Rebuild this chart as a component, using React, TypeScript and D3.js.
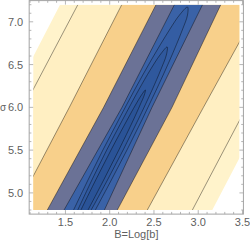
import React from 'react';
import * as d3 from 'd3';

const WIDTH = 250;
const HEIGHT = 247;

// plotted region in data units
const bDomain: [number, number] = [1.137, 3.464];
const sigmaDomain: [number, number] = [4.8, 7.2];

// straight-ish contours, given as the B value where each crosses sigma = 7.2, 6.0, 4.8
const sigmaRows = [7.2, 6.0, 4.8];
const cutLeft = [1.439, 0.841, 0.241]; // edge of the clipped (white) corner
const c1Left = [1.64, 1.029, 0.419];
const c2Left = [2.136, 1.544, 0.935];
const c3Left = [2.523, 1.931, 1.295];
const c4Left = [2.731, 2.139, 1.484];
const c4Right = [3.049, 2.478, 1.94];
const c3Right = [3.255, 2.704, 2.086];
const c2Right = [3.698, 3.059, 2.425];
const c1Right = [4.155, 3.544, 2.934];
const cutRight = [4.373, 3.766, 3.159];

// inner contours along the ridge, [B, sigma], open at the bottom edge
const inner1: [number, number][] = [
  [1.592, 4.8], [1.755, 5.151], [1.923, 5.501], [2.1, 5.852], [2.28, 6.203], [2.47, 6.554],
  [2.674, 6.904], [2.789, 7.08], [2.879, 7.173], [2.879, 7.08], [2.82, 6.904], [2.68, 6.554],
  [2.526, 6.203], [2.364, 5.852], [2.195, 5.501], [2.019, 5.151], [1.838, 4.8]
];
const inner2: [number, number][] = [
  [1.639, 4.8], [1.799, 5.151], [1.966, 5.501], [2.144, 5.852], [2.327, 6.203], [2.458, 6.437],
  [2.568, 6.612], [2.649, 6.706], [2.64, 6.612], [2.576, 6.437], [2.479, 6.203], [2.32, 5.852],
  [2.152, 5.501], [1.975, 5.151], [1.791, 4.8]
];
const inner3: [number, number][] = [
  [1.675, 4.8], [1.842, 5.151], [2.015, 5.501], [2.197, 5.852], [2.291, 6.027], [2.359, 6.144],
  [2.403, 6.203], [2.391, 6.144], [2.343, 6.027], [2.267, 5.852], [2.103, 5.501], [1.932, 5.151],
  [1.755, 4.8]
];

const xMajor = [1.5, 2.0, 2.5, 3.0, 3.5];
const yMajor = [5.0, 5.5, 6.0, 6.5, 7.0];

const bandColors = ['#fff3cb', '#ffefc2', '#f8d08b', '#6b7296', '#3a62a7', '#345da3', '#2f589d', '#2a5397'];
const frameColor = '#a3a3a3';
const labelColor = '#5f5f5f';
const lineColor = 'rgba(0,0,0,0.5)';
const font = '"Liberation Sans", Arial, sans-serif';

export default function App() {
  const x = d3.scaleLinear().domain(bDomain).range([33.3, 239.3]);
  const y = d3.scaleLinear().domain(sigmaDomain).range([210, 4.7]);

  const padB = 0.02 * (bDomain[1] - bDomain[0]);
  const padS = 0.02 * (sigmaDomain[1] - sigmaDomain[0]);
  const fl = x(bDomain[0] - padB);
  const fr = x(bDomain[1] + padB);
  const ft = y(sigmaDomain[1] + padS);
  const fb = y(sigmaDomain[0] - padS);

  const pts = (bs: number[]) => bs.map((b, i) => [x(b), y(sigmaRows[i])] as [number, number]);
  const band = (a: number[], b: number[]) =>
    d3.line()([...pts(a), ...pts(b).reverse()]) + 'Z';
  const edge = (a: number[]) => d3.line()(pts(a))!;
  const ridge = d3.line<[number, number]>()
    .x(d => x(d[0]))
    .y(d => y(d[1]))
    .curve(d3.curveCatmullRom);

  const bands = [
    band(cutLeft, cutRight),
    band(c1Left, c1Right),
    band(c2Left, c2Right),
    band(c3Left, c3Right),
    band(c4Left, c4Right),
    ridge(inner1) + 'Z',
    ridge(inner2) + 'Z',
    ridge(inner3) + 'Z'
  ];
  const lines = [
    ...[c1Left, c2Left, c3Left, c4Left, c4Right, c3Right, c2Right, c1Right].map(edge),
    ridge(inner1)!, ridge(inner2)!, ridge(inner3)!
  ];

  const xMinor = d3.range(11, 36).map(v => v / 10);
  const yMinor = d3.range(48, 73).map(v => v / 10);

  return (
    <svg width={WIDTH} height={HEIGHT} style={{ position: 'absolute', left: 0, top: 0 }}>
      <defs>
        <clipPath id="plot-clip">
          <rect x={x(bDomain[0])} y={y(sigmaDomain[1])}
            width={x(bDomain[1]) - x(bDomain[0])} height={y(sigmaDomain[0]) - y(sigmaDomain[1])} />
        </clipPath>
      </defs>
      <g clipPath="url(#plot-clip)">
        {bands.map((d, i) => <path key={i} d={d} fill={bandColors[i]} />)}
        {lines.map((d, i) => <path key={i} d={d} fill="none" stroke={lineColor} strokeWidth={0.8} />)}
      </g>

      {/* frame and ticks */}
      <rect x={fl} y={ft} width={fr - fl} height={fb - ft} fill="none" stroke={frameColor} strokeWidth={1} />
      <g stroke={frameColor} strokeWidth={0.8}>
        {xMinor.map(v => {
          const len = xMajor.some(m => Math.abs(m - v) < 1e-6) ? 4 : 2.2;
          return (
            <g key={'x' + v}>
              <line x1={x(v)} x2={x(v)} y1={fb} y2={fb - len} />
              <line x1={x(v)} x2={x(v)} y1={ft} y2={ft + len} />
            </g>
          );
        })}
        {yMinor.map(v => {
          const len = yMajor.some(m => Math.abs(m - v) < 1e-6) ? 4 : 2.2;
          return (
            <g key={'y' + v}>
              <line x1={fl} x2={fl + len} y1={y(v)} y2={y(v)} />
              <line x1={fr} x2={fr - len} y1={y(v)} y2={y(v)} />
            </g>
          );
        })}
      </g>

      <g fontFamily={font} fontSize={11} fill={labelColor}>
        {xMajor.map(v => (
          <text key={v} x={x(v)} y={fb + 12} textAnchor="middle">{v.toFixed(1)}</text>
        ))}
        {yMajor.map(v => (
          <text key={v} x={fl - 6} y={y(v) + 4} textAnchor="end">{v.toFixed(1)}</text>
        ))}
        <text x={(fl + fr) / 2} y={fb + 24} textAnchor="middle">B=Log[b]</text>
        <text x={0} y={y(6.0) + 4} fontSize={10}>σ</text>
      </g>
    </svg>
  );
}
